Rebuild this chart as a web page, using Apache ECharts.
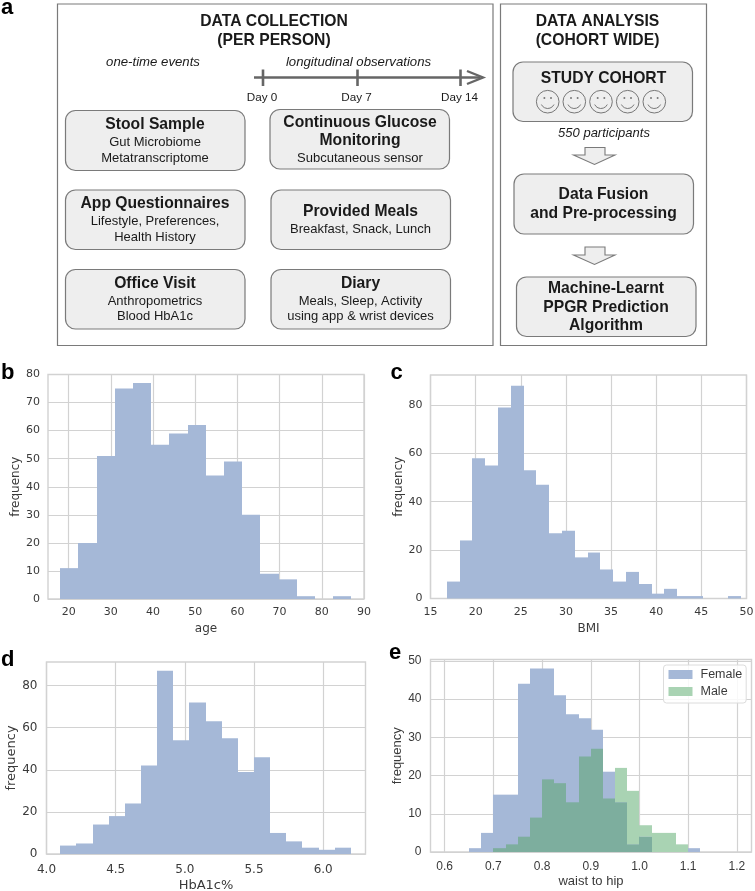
<!DOCTYPE html>
<html>
<head>
<meta charset="utf-8">
<style>html,body{margin:0;padding:0;background:#fff}#c{width:755px;height:891px}</style>
<script src="https://cdn.jsdelivr.net/npm/echarts@6/dist/echarts.min.js"></script>
</head>
<body>
<div id="c"></div>
<script>
// ---- data ----
const ageCounts = [11,20,51,75,77,55,59,62,44,49,30,9,7,1,0,1];
const ageRange = [18,87];
const ageXTicks = [20,30,40,50,60,70,80,90];
const ageYTicks = [0,10,20,30,40,50,60,70,80];

const bmiCounts = [7,24,58,55,79,88,53,47,27,28,17,19,12,7,11,6,2,4,1,1,0,0,1];
const bmiRange = [16.8,49.4];
const bmiXTicks = [15,20,25,30,35,40,45,50];
const bmiYTicks = [0,20,40,60,80];

const hbaCounts = [4,5,14,18,24,42,87,54,72,63,55,39,46,10,6,3,2,3];
const hbaRange = [4.1,6.2];
const hbaXTicks = [4.0,4.5,5.0,5.5,6.0];
const hbaYTicks = [0,20,40,60,80];

const femaleCounts = [1,5,15,15,44,48,48,41,36,35,32,21,13,2,4,0,0,0,1];
const femaleRange = [0.65,1.125];
const maleCounts = [1,2,4,9,19,18,13,25,27,14,22,16,7,5,5,2];
const maleRange = [0.70,1.10];
const waistXTicks = [0.6,0.7,0.8,0.9,1.0,1.1,1.2];
const waistYTicks = [0,10,20,30,40,50];

// ---- colours and fonts ----
const BLUE='#a5b8d7', GREEN='#a9d3b3', OVER='#7dae9e', GRID='#d2d2d2', TXT='#3a3a3a', EDGE='#7a7a7a', BOX='#eeeeee';
const SANS='"Liberation Sans",Arial,sans-serif', DJ='"DejaVu Sans",sans-serif';

function bins(counts,range){
  const w=(range[1]-range[0])/counts.length;
  return counts.map((c,i)=>[range[0]+i*w,range[0]+(i+1)*w,c]);
}
function rectOf(api,x0,x1,y0,y1){
  const a=api.coord([x0,y1]), b=api.coord([x1,y0]);
  const l=Math.round(a[0]), r=Math.round(b[0]);
  return {x:l,y:a[1],width:r-l,height:b[1]-a[1]};
}
function hist(name,counts,range,gridIndex,color){
  return {name,type:'custom',xAxisIndex:gridIndex,yAxisIndex:gridIndex,
    itemStyle:{color},encode:{x:[0,1],y:2},data:bins(counts,range),
    renderItem:(p,api)=>{
      if(!api.value(2)) return {type:'group',children:[]};
      return {type:'rect',shape:rectOf(api,api.value(0),api.value(1),0,api.value(2)),style:{fill:color}};
    }};
}
// the male bars: the part in front of the female bars is the mixed colour
const femaleBins=bins(femaleCounts,femaleRange);
function maleSeries(){
  return {name:'Male',type:'custom',xAxisIndex:3,yAxisIndex:3,z:3,
    itemStyle:{color:GREEN},encode:{x:[0,1],y:2},data:bins(maleCounts,maleRange),
    renderItem:(p,api)=>{
      const x0=api.value(0),x1=api.value(1),m=api.value(2);
      const f=femaleBins[p.dataIndex+2][2], low=Math.min(f,m);
      return {type:'group',children:[
        {type:'rect',shape:rectOf(api,x0,x1,low,m),style:{fill:GREEN}},
        {type:'rect',shape:rectOf(api,x0,x1,0,low),style:{fill:OVER}}
      ]};
    }};
}
function xAxis(i,min,max,ticks,name,o){
  return {type:'value',gridIndex:i,min,max,name,nameLocation:'middle',nameGap:o.xGap,
    nameTextStyle:{fontFamily:o.font,fontSize:o.nameSize,color:TXT},
    axisLine:{show:false},axisTick:{show:false,customValues:ticks},
    axisLabel:{customValues:ticks,fontFamily:o.font,fontSize:o.size,color:TXT,margin:o.xMargin,hideOverlap:false,
      formatter:v=>o.fixed?v.toFixed(o.fixed):String(v)},
    splitLine:{show:true,lineStyle:{color:GRID,width:1.2}}};
}
function yAxis(i,max,ticks,o){
  return {type:'value',gridIndex:i,min:0,max,name:'frequency',nameLocation:'middle',nameGap:o.yGap,
    nameTextStyle:{fontFamily:o.font,fontSize:o.nameSize,color:TXT},
    axisLine:{show:false},axisTick:{show:false,customValues:ticks},
    axisLabel:{customValues:ticks,fontFamily:o.font,fontSize:o.size,color:TXT,margin:o.yMargin,hideOverlap:false},
    splitLine:{show:true,lineStyle:{color:GRID,width:1.2}}};
}
const gridBox=(l,t,r,b)=>({left:l,top:t,width:r-l,height:b-t,show:true,borderColor:GRID,borderWidth:1.4,backgroundColor:'#fff',containLabel:false,outerBoundsMode:'none'});

const oB={font:DJ,size:11,nameSize:12,xGap:24,xMargin:8,yGap:24,yMargin:8};
const oC={font:DJ,size:11,nameSize:12,xGap:24,xMargin:8,yGap:24,yMargin:8};
const oD={font:DJ,size:12,nameSize:13,xGap:25,xMargin:10,yGap:26,yMargin:9,fixed:1};
const oE={font:SANS,size:12,nameSize:13,xGap:23,xMargin:9,yGap:24,yMargin:9,fixed:1};

// ---- panel a: schematic ----
const G=[];
const T=(text,x,y,size,weight,style,color)=>G.push({type:'text',silent:true,z:10,x,y,style:{text,fill:color||'#1a1a1a',
  font:`${style||'normal'} ${weight||'normal'} ${size}px ${SANS}`,align:'center',verticalAlign:'middle'}});
const R=(x0,y0,x1,y1,r,fill)=>G.push({type:'rect',silent:true,z:5,shape:{x:x0,y:y0,width:x1-x0,height:y1-y0,r},
  style:{fill:fill||'#fff',stroke:EDGE,lineWidth:1.2}});
const L=(pts,w,color,fill)=>G.push({type:'polyline',silent:true,z:6,shape:{points:pts},style:{stroke:color||'#666',lineWidth:w,fill:fill||'none'}});

const H=15.7,S=13,I=13.2;
R(57.5,4,493,345.5,0); R(500.5,4,706.5,345.5,0);
T('DATA COLLECTION',274,21.5,H,'bold'); T('(PER PERSON)',274,40.5,H,'bold');
T('one-time events',153,62,I,'normal','italic'); T('longitudinal observations',358.5,62,I,'normal','italic');
L([[254,77.5],[480,77.5]],2.6);
[263,357.5,460.5].forEach(x=>L([[x,69.5],[x,86]],2.6));
L([[467,71],[483,77.5],[467,84]],2.4,'#666');
T('Day 0',262,97.5,11.7); T('Day 7',356.5,97.5,11.7); T('Day 14',459.5,97.5,11.7);

R(65.5,110.5,245,170.5,10,BOX); T('Stool Sample',155,125,H,'bold'); T('Gut Microbiome',155,142.5,S); T('Metatranscriptome',155,158.5,S);
R(270,109.5,449.5,169,10,BOX); T('Continuous Glucose',360,122.5,H,'bold'); T('Monitoring',360,141,H,'bold'); T('Subcutaneous sensor',360,158.5,S);
R(65.5,190,245,249.5,10,BOX); T('App Questionnaires',155,204,H,'bold'); T('Lifestyle, Preferences,',155,221.5,S); T('Health History',155,237.5,S);
R(271,190,450.5,249.5,10,BOX); T('Provided Meals',360.5,212,H,'bold'); T('Breakfast, Snack, Lunch',360.5,229.5,S);
R(65.5,269.5,245,329,10,BOX); T('Office Visit',155,283.5,H,'bold'); T('Anthropometrics',155,301,S); T('Blood HbA1c',155,316.5,S);
R(271,269.5,450.5,329,10,BOX); T('Diary',360.5,283.5,H,'bold'); T('Meals, Sleep, Activity',360.5,301,S); T('using app & wrist devices',360.5,316.5,S);

T('DATA ANALYSIS',597.5,22,H,'bold'); T('(COHORT WIDE)',597.5,41,H,'bold');
R(513,62,692.5,121.5,10,BOX); T('STUDY COHORT',603.5,79,H,'bold');
[547.7,574.3,601,627.7,654.3].forEach(x=>{
  G.push({type:'circle',silent:true,z:7,shape:{cx:x,cy:101.7,r:11.3},style:{fill:'none',stroke:'#777',lineWidth:1}});
  G.push({type:'arc',silent:true,z:7,shape:{cx:x,cy:101.5,r:7,startAngle:0.45,endAngle:Math.PI-0.45,clockwise:true},style:{fill:'none',stroke:'#777',lineWidth:1}});
  [-3.3,3.3].forEach(d=>G.push({type:'circle',silent:true,z:7,shape:{cx:x+d,cy:98,r:1},style:{fill:'#777',stroke:'none'}}));
});
T('550 participants',604,133.5,13,'normal','italic');
const hollow=(t,s,e)=>G.push({type:'polygon',silent:true,z:6,shape:{points:[[585,t],[605,t],[605,s],[615,s],[594.5,e],[573.5,s],[585,s]]},style:{fill:BOX,stroke:EDGE,lineWidth:1.1}});
hollow(147.5,155,164.5); hollow(247,255,264.5);
R(514,174,693.5,234,10,BOX); T('Data Fusion',603.5,195,H,'bold'); T('and Pre-processing',603.5,214,H,'bold');
R(516.5,277,696,336.5,10,BOX); T('Machine-Learnt',606,288.5,H,'bold'); T('PPGR Prediction',606,307.5,H,'bold'); T('Algorithm',606,326,H,'bold');

const P=(t,x,y)=>G.push({type:'text',silent:true,z:10,x,y,style:{text:t,fill:'#000',font:`bold 22px ${SANS}`,align:'left',verticalAlign:'middle'}});
P('a',1,8); P('b',1,373); P('c',390.5,373); P('d',1,660); P('e',389,653);

const option={
  animation:false,
  backgroundColor:'#fff',
  graphic:G,
  grid:[gridBox(48,374.5,364,599),gridBox(430.5,375,746.5,598.5),gridBox(46.5,662,365.5,854),gridBox(430.5,659.5,751.5,852)],
  xAxis:[
    xAxis(0,15.1,90,ageXTicks,'age',oB),
    xAxis(1,15,50,bmiXTicks,'BMI',oC),
    xAxis(2,4,6.306,hbaXTicks,'HbA1c%',oD),
    xAxis(3,0.571,1.23,waistXTicks,'waist to hip',oE)
  ],
  yAxis:[
    yAxis(0,80,ageYTicks,oB),
    yAxis(1,92.4,bmiYTicks,oC),
    yAxis(2,91.2,hbaYTicks,oD),
    yAxis(3,50.35,waistYTicks,oE)
  ],
  legend:{data:[{name:'Female',icon:'rect'},{name:'Male',icon:'rect'}],orient:'vertical',left:663.5,top:665,
    itemWidth:24,itemHeight:9,itemGap:4,padding:[3,4,5,5],
    backgroundColor:'rgba(255,255,255,0.85)',borderColor:'#dcdcdc',borderWidth:1,borderRadius:3,
    textStyle:{fontFamily:SANS,fontSize:12.5,color:TXT,padding:[0,0,0,3]},selectedMode:false,z:20},
  series:[
    hist('age',ageCounts,ageRange,0,BLUE),
    hist('BMI',bmiCounts,bmiRange,1,BLUE),
    hist('HbA1c%',hbaCounts,hbaRange,2,BLUE),
    hist('Female',femaleCounts,femaleRange,3,BLUE),
    maleSeries()
  ]
};
echarts.init(document.getElementById('c')).setOption(option);
</script>
</body>
</html>
